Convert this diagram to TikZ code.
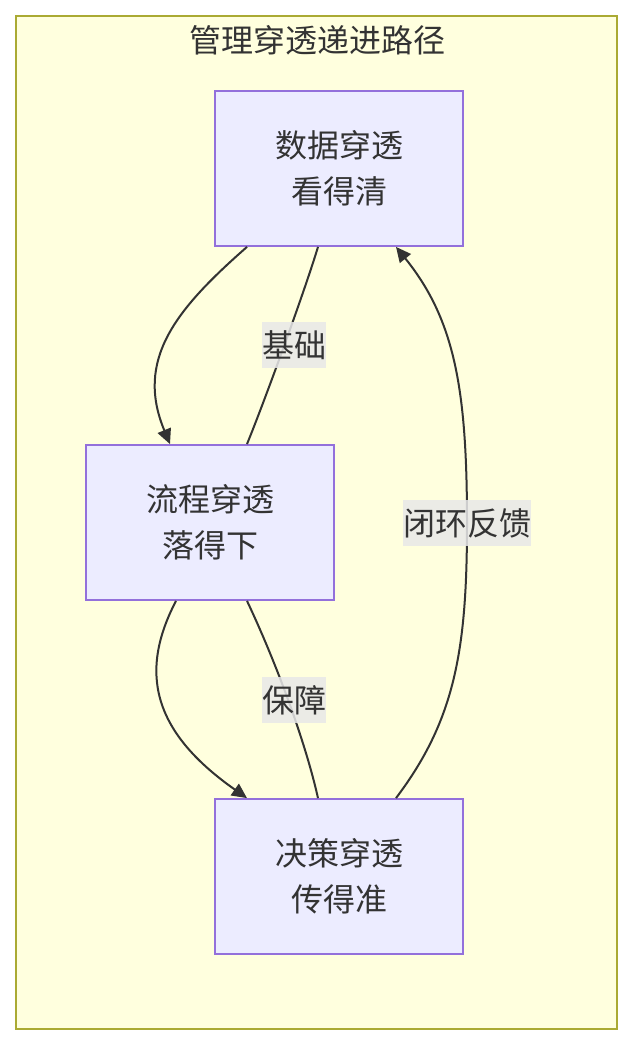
\documentclass[tikz,border=0pt]{standalone}
\usepackage{fontspec}
\newfontfamily\cjk{Noto Sans CJK SC}
\usepackage{xcolor}
\usepackage{tikz}
\usetikzlibrary{arrows.meta,positioning,calc}

\definecolor{groupfill}{HTML}{FFFFDE}
\definecolor{groupline}{HTML}{AAAA33}
\definecolor{boxfill}{HTML}{ECECFF}
\definecolor{boxline}{HTML}{9370DB}
\definecolor{ink}{HTML}{333333}
\definecolor{lblfill}{HTML}{E8E8E8}

\begin{document}
\begin{tikzpicture}[
    x=1pt, y=-1pt,
    txt/.style={text=ink, font=\cjk\fontsize{32}{46}\selectfont},
    box/.style={txt, draw=boxline, fill=boxfill, line width=1.8pt, align=center,
      minimum width=248pt, minimum height=155pt, inner sep=0pt},
    lbl/.style={txt, fill=lblfill, fill opacity=0.85, text opacity=1, inner sep=0pt,
      minimum height=46pt},
    link/.style={draw=ink, line width=2pt},
    arr/.style={link, -{Triangle[length=15pt, width=14pt]}}
  ]
    \useasboundingbox (0,0) rectangle (633,1046);
    \fill[white] (0,0) rectangle (633,1046);
    \draw[groupline, fill=groupfill, line width=1.8pt] (16,16) rectangle (617,1029);
    \node[txt] (title) at (317,40) {管理穿透递进路径};

    \node[box] (data) at (339,168.5) {数据穿透\\看得清};
    \node[box] (flow) at (210,522.5) {流程穿透\\落得下};
    \node[box] (deci) at (339,876.5) {决策穿透\\传得准};

    \draw[arr] ([xshift=-92pt]data.south) .. controls (175,310) and (135,360) .. ([xshift=-40pt]flow.north);
    \draw[link] ([xshift=37pt]flow.north) .. controls (265,400) and (305,290) .. ([xshift=-21pt]data.south)
      node[lbl, pos=0.5, xshift=10pt] (jichu) {基础};
    \draw[arr] ([xshift=-34pt]flow.south) .. controls (140,670) and (150,730) .. ([xshift=-92pt]deci.north);
    \draw[link] ([xshift=37pt]flow.south) .. controls (275,660) and (305,740) .. ([xshift=-21pt]deci.north)
      node[lbl, pos=0.5, xshift=6pt] (baozhang) {保障};
    \draw[arr] ([xshift=57pt]deci.north) .. controls (455,720) and (467,650) .. (467,523)
      node[lbl] (fankui) {闭环反馈}
      .. controls (467,390) and (455,320) .. ([xshift=57pt]data.south);
  \end{tikzpicture}
\end{document}
